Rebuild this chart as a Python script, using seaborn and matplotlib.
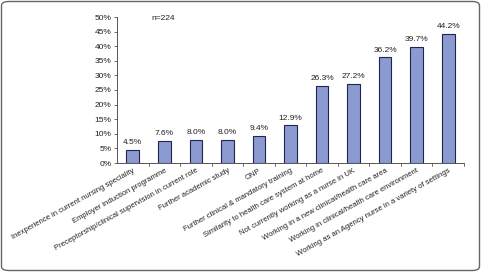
import matplotlib
matplotlib.use("Agg")
import matplotlib.pyplot as plt
import seaborn as sns
import pandas as pd
import numpy as np
from matplotlib.patches import FancyBboxPatch
from matplotlib.ticker import MultipleLocator, FuncFormatter

categories = [
    "Inexperience in current nursing speciality",
    "Employer induction programme",
    "Preceptorship/clinical supervision in current role",
    "Further academic study",
    "ONP",
    "Further clinical & mandatory training",
    "Similarity to health care system at home",
    "Not currently working as a nurse in UK",
    "Working in a new clinical/health care area",
    "Working in clinical/health care environment",
    "Working as an Agency nurse in a variety of settings",
]
values = [4.5, 7.6, 8.0, 8.0, 9.4, 12.9, 26.3, 27.2, 36.2, 39.7, 44.2]
value_labels = ["4.5%", "7.6%", "8.0%", "8.0%", "9.4%", "12.9%", "26.3%", "27.2%", "36.2%", "39.7%", "44.2%"]

df = pd.DataFrame({"cat": categories, "val": values})

sns.set_style("white")
plt.rcParams["font.family"] = ["Liberation Sans", "DejaVu Sans"]

fig = plt.figure(figsize=(4.83, 2.72), dpi=100)
ax = fig.add_axes([117/483, 1-163/272, (464-117)/483, (163-17)/272])

sns.barplot(data=df, x="cat", y="val", ax=ax, color="#8c9ad2", width=0.4,
            edgecolor="#1f2550", linewidth=0.8, saturation=1)

ax.set_ylim(0, 50)
ax.set_xlim(-0.5, len(categories)-0.5)
ax.yaxis.set_major_locator(MultipleLocator(5))
ax.yaxis.set_major_formatter(FuncFormatter(lambda v, p: f"{int(v)}%"))
ax.set_xlabel("")
ax.set_ylabel("")

for s in ["top", "right"]:
    ax.spines[s].set_visible(False)
for s in ["left", "bottom"]:
    ax.spines[s].set_color("#555555")
    ax.spines[s].set_linewidth(0.7)

fs = 6
ax.tick_params(axis="y", labelsize=fs, length=2.5, width=0.6, color="#555555", direction="out", left=True, pad=1.5, labelcolor="#222222")
ax.set_xticks(range(len(categories)))
ax.set_xticklabels(categories, rotation=29, ha="right", rotation_mode="anchor", fontsize=5.5, color="#222222")
ax.tick_params(axis="x", length=0, pad=3)
# ticks between categories
for b in np.arange(0.5, len(categories), 1.0):
    ax.plot([b, b], [0, -0.9], color="#555555", lw=0.6, clip_on=False, transform=ax.transData)

for i, (v, lab) in enumerate(zip(values, value_labels)):
    ax.text(i, v + 1.3, lab, ha="center", va="bottom", fontsize=fs, color="#222222")

ax.text(0.6, 49.5, "n=224", ha="left", va="center", fontsize=fs, color="#222222")

border = FancyBboxPatch((1.5/483, 1.5/272), 478/483, 269/272,
                        boxstyle="round,pad=0,rounding_size=0.015",
                        transform=fig.transFigure, fill=False,
                        edgecolor="#666666", linewidth=1.0)
fig.patches.append(border)

fig.savefig("out.png", dpi=100, facecolor="white")
